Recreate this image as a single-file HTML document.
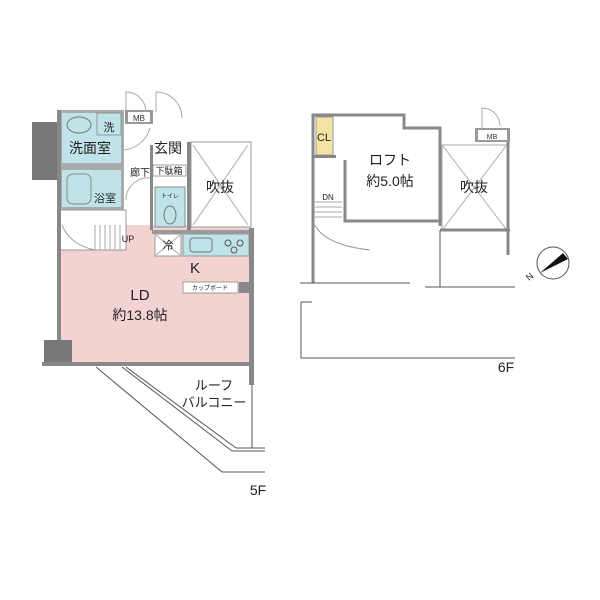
<!DOCTYPE html>
<html><head><meta charset="utf-8"><style>
html,body{margin:0;padding:0;background:#fff;}
svg{display:block;font-family:"Liberation Sans","Noto Sans CJK JP",sans-serif;}
</style></head><body>
<svg width="600" height="600" viewBox="0 0 600 600">
<!-- 5F -->
<rect x="32" y="122" width="26" height="58" fill="#777"/>
<rect x="60" y="225" width="191" height="139" fill="#f2d3d1"/>
<rect x="60" y="110" width="64" height="100" fill="#aaa"/>
<rect x="62" y="113" width="59" height="50" fill="#bfe3e8"/>
<rect x="97" y="113" width="24" height="22" fill="#bfe3e8" stroke="#888" stroke-width="0.8"/>
<ellipse cx="79" cy="125" rx="12" ry="8" fill="none" stroke="#777"/>
<rect x="62" y="170" width="59" height="37" fill="#bfe3e8"/>
<rect x="67" y="174" width="24" height="30" rx="6" fill="none" stroke="#888"/>
<rect x="60" y="210" width="66" height="40" fill="#fff" stroke="#999"/>
<path d="M62 225 Q70 245 95 250" fill="none" stroke="#999"/>
<g stroke="#aaa"><line x1="95" y1="225" x2="95" y2="250"/><line x1="100" y1="225" x2="100" y2="250"/><line x1="105" y1="225" x2="105" y2="250"/><line x1="110" y1="225" x2="110" y2="250"/><line x1="115" y1="225" x2="115" y2="250"/><line x1="120" y1="225" x2="120" y2="250"/></g>
<rect x="125" y="110" width="28" height="14" fill="#999"/><rect x="128" y="112" width="22" height="10" fill="#fff"/>
<text x="139" y="121" font-size="8" text-anchor="middle" fill="#333">MB</text>
<path d="M126 110 V92 A20 20 0 0 1 146 112" fill="none" stroke="#aaa"/>
<path d="M156 112 V92 A26 26 0 0 1 182 118" fill="none" stroke="#aaa"/>
<path d="M121 150 A30 30 0 0 0 150 128" fill="none" stroke="#aaa"/>
<path d="M126 200 A22 22 0 0 1 150 178" fill="none" stroke="#aaa"/>
<rect x="150" y="145" width="3" height="85" fill="#888"/>
<rect x="187" y="142" width="4" height="88" fill="#888"/>
<rect x="191" y="142" width="60" height="85" fill="#fff" stroke="#999"/>
<line x1="193" y1="145" x2="248" y2="225" stroke="#aaa"/><line x1="248" y1="145" x2="193" y2="225" stroke="#aaa"/>
<rect x="153" y="165" width="33" height="11" fill="#fff" stroke="#888" stroke-width="0.8"/>
<rect x="155" y="187" width="30" height="40" fill="#bfe3e8" stroke="#888"/>
<ellipse cx="170" cy="215" rx="6" ry="9" fill="none" stroke="#777"/>
<rect x="152" y="230" width="100" height="4" fill="#999"/>
<rect x="155" y="234" width="26" height="22" fill="#fff" stroke="#999"/>
<line x1="156" y1="235" x2="180" y2="255" stroke="#aaa"/><line x1="180" y1="235" x2="156" y2="255" stroke="#aaa"/>
<rect x="183" y="234" width="66" height="22" fill="#bfe3e8" stroke="#999"/>
<rect x="190" y="238" width="22" height="14" rx="3" fill="none" stroke="#777"/>
<circle cx="228" cy="243" r="3" fill="none" stroke="#555"/><circle cx="240" cy="243" r="3" fill="none" stroke="#555"/><circle cx="234" cy="250" r="3" fill="none" stroke="#555"/>
<rect x="183" y="282" width="55" height="11" fill="#fff" stroke="#888" stroke-width="0.8"/>
<rect x="239" y="282" width="10" height="11" fill="#888"/>
<rect x="57" y="110" width="4" height="255" fill="#888"/>
<rect x="249" y="228" width="5" height="157" fill="#888"/>
<rect x="44" y="340" width="28" height="25" fill="#777"/>
<rect x="42" y="362" width="212" height="4" fill="#888"/>
<line x1="96" y1="367" x2="222" y2="472" stroke="#555"/><line x1="222" y1="472" x2="265" y2="472" stroke="#555"/>
<line x1="122" y1="367" x2="232" y2="451" stroke="#555"/><line x1="126" y1="367" x2="236" y2="448" stroke="#555"/>
<line x1="232" y1="451" x2="265" y2="451" stroke="#555"/><line x1="236" y1="448" x2="265" y2="448" stroke="#555"/>
<line x1="252" y1="385" x2="252" y2="448" stroke="#555"/>
<g fill="#222">
<text x="109" y="131" font-size="11" text-anchor="middle">洗</text>
<text x="90" y="153" font-size="14" text-anchor="middle">洗面室</text>
<text x="105" y="202" font-size="11" text-anchor="middle">浴室</text>
<text x="168" y="153" font-size="14" text-anchor="middle">玄関</text>
<text x="140" y="176" font-size="10" text-anchor="middle">廊下</text>
<text x="169" y="174" font-size="9" text-anchor="middle">下駄箱</text>
<text x="170" y="198" font-size="6" text-anchor="middle">トイレ</text>
<text x="220" y="192" font-size="14" text-anchor="middle">吹抜</text>
<text x="128" y="242" font-size="9" text-anchor="middle">UP</text>
<text x="168" y="249" font-size="11" text-anchor="middle">冷</text>
<text x="195" y="273" font-size="15" text-anchor="middle">K</text>
<text x="210" y="290" font-size="6" text-anchor="middle">カップボード</text>
<text x="140" y="300" font-size="15" text-anchor="middle">LD</text>
<text x="140" y="320" font-size="14" text-anchor="middle">約13.8帖</text>
<text x="214" y="390" font-size="13" text-anchor="middle">ルーフ</text>
<text x="214" y="407" font-size="13" text-anchor="middle">バルコニー</text>
<text x="258" y="495" font-size="14" text-anchor="middle">5F</text>
</g>
<!-- 6F -->
<rect x="316" y="117" width="17" height="38" fill="#f3e3a4" stroke="#999"/>
<text x="324" y="141" font-size="11" text-anchor="middle" fill="#222">CL</text>
<path d="M313 283 V115 H404 V128 H440 V226" fill="none" stroke="#888" stroke-width="3"/>
<path d="M345 160 V221 H440" fill="none" stroke="#888" stroke-width="3"/>
<rect x="313" y="155" width="23" height="3" fill="#888"/>
<g stroke="#aaa"><line x1="315" y1="202" x2="342" y2="202"/><line x1="315" y1="207" x2="342" y2="207"/><line x1="315" y1="212" x2="342" y2="212"/><line x1="315" y1="217" x2="342" y2="217"/></g>
<path d="M315 225 Q325 245 370 250" fill="none" stroke="#999"/>
<path d="M450 195 A20 20 0 0 0 470 175" fill="none" stroke="#aaa"/>
<rect x="442" y="145" width="65" height="85" fill="#fff" stroke="#aaa"/>
<line x1="443" y1="146" x2="506" y2="229" stroke="#aaa"/><line x1="506" y1="146" x2="443" y2="229" stroke="#aaa"/>
<path d="M440 230 H510" stroke="#888" stroke-width="3"/>
<path d="M508 128 V255" stroke="#888" stroke-width="3"/>
<rect x="475" y="128" width="35" height="14" fill="#999"/><rect x="478" y="130" width="29" height="10" fill="#fff"/>
<text x="492" y="139" font-size="7" text-anchor="middle" fill="#333">MB</text>
<path d="M482 128 V108 A18 18 0 0 1 500 126" fill="none" stroke="#aaa"/>
<path d="M300 283 H410 M425 287 H515" stroke="#555"/>
<line x1="440" y1="230" x2="440" y2="287" stroke="#555"/>
<path d="M301 302 V358 H515" fill="none" stroke="#555"/>
<path d="M301 302 H312" stroke="#555"/>
<circle cx="553" cy="263" r="16" fill="#fff" stroke="#555"/>
<polygon points="540,273 563,253 568,259" fill="#111"/>
<text x="529" y="281" font-size="9" fill="#222" transform="rotate(-40 529 281)">N</text>
<g fill="#222">
<text x="328" y="200" font-size="8" text-anchor="middle">DN</text>
<text x="390" y="165" font-size="14" text-anchor="middle">ロフト</text>
<text x="390" y="186" font-size="14" text-anchor="middle">約5.0帖</text>
<text x="474" y="192" font-size="14" text-anchor="middle">吹抜</text>
<text x="506" y="372" font-size="14" text-anchor="middle">6F</text>
</g>
</svg>
</body></html>
